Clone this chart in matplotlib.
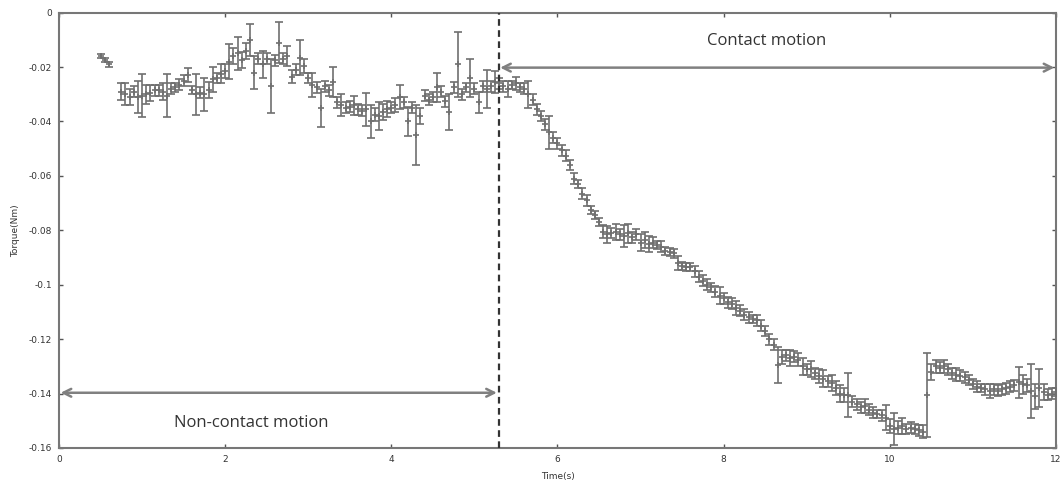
import matplotlib
matplotlib.use("Agg")
import matplotlib.pyplot as plt
import numpy as np

# ---- data ----
time_s = [0.50, 0.55, 0.60,
          0.75, 0.80, 0.85, 0.90, 0.95, 1.00, 1.05, 1.10, 1.15, 1.20, 1.25, 1.30, 1.35, 1.40, 1.45, 1.50,
          1.55, 1.60, 1.65, 1.70, 1.75, 1.80, 1.85, 1.90, 1.95, 2.00, 2.05, 2.10, 2.15, 2.20, 2.25, 2.30,
          2.35, 2.40, 2.45, 2.50, 2.55, 2.60, 2.65, 2.70, 2.75, 2.80, 2.85, 2.90, 2.95, 3.00, 3.05, 3.10,
          3.15, 3.20, 3.25, 3.30, 3.35, 3.40, 3.45, 3.50, 3.55, 3.60, 3.65, 3.70, 3.75, 3.80, 3.85, 3.90,
          3.95, 4.00, 4.05, 4.10, 4.15, 4.20, 4.25, 4.30, 4.35, 4.40, 4.45, 4.50, 4.55, 4.60, 4.65, 4.70,
          4.75, 4.80, 4.85, 4.90, 4.95, 5.00, 5.05, 5.10, 5.15, 5.20, 5.25, 5.30, 5.35, 5.40, 5.45, 5.50,
          5.55, 5.60, 5.65, 5.70, 5.75, 5.80, 5.85, 5.90, 5.95, 6.00, 6.05, 6.10, 6.15, 6.20, 6.25, 6.30,
          6.35, 6.40, 6.45, 6.50, 6.55, 6.60, 6.65, 6.70, 6.75, 6.80, 6.85, 6.90, 6.95, 7.00, 7.05, 7.10,
          7.15, 7.20, 7.25, 7.30, 7.35, 7.40, 7.45, 7.50, 7.55, 7.60, 7.65, 7.70, 7.75, 7.80, 7.85, 7.90,
          7.95, 8.00, 8.05, 8.10, 8.15, 8.20, 8.25, 8.30, 8.35, 8.40, 8.45, 8.50, 8.55, 8.60, 8.65, 8.70,
          8.75, 8.80, 8.85, 8.90, 8.95, 9.00, 9.05, 9.10, 9.15, 9.20, 9.25, 9.30, 9.35, 9.40, 9.45, 9.50,
          9.55, 9.60, 9.65, 9.70, 9.75, 9.80, 9.85, 9.90, 9.95, 10.00, 10.05, 10.10, 10.15, 10.20, 10.25,
          10.30, 10.35, 10.40, 10.45, 10.50, 10.55, 10.60, 10.65, 10.70, 10.75, 10.80, 10.85, 10.90,
          10.95, 11.00, 11.05, 11.10, 11.15, 11.20, 11.25, 11.30, 11.35, 11.40, 11.45, 11.50, 11.55,
          11.60, 11.65, 11.70, 11.75, 11.80, 11.85, 11.90, 11.95, 12.00]

torque_mean = [-0.0160, -0.0174, -0.0190,
               -0.0290, -0.0300, -0.0310, -0.0290, -0.0310, -0.0305, -0.0300, -0.0295, -0.0285, -0.0285,
               -0.0290, -0.0305, -0.0280, -0.0275, -0.0265, -0.0250,
               -0.0230, -0.0285, -0.0300, -0.0295, -0.0300, -0.0285, -0.0245, -0.0240, -0.0225, -0.0215,
               -0.0180, -0.0160, -0.0150, -0.0175, -0.0140, -0.0100,
               -0.0220, -0.0170, -0.0190, -0.0170, -0.0270, -0.0175, -0.0110, -0.0170, -0.0160, -0.0235,
               -0.0210, -0.0165, -0.0195, -0.0240, -0.0265, -0.0275,
               -0.0350, -0.0270, -0.0285, -0.0255, -0.0330, -0.0340, -0.0350, -0.0345, -0.0340, -0.0355,
               -0.0360, -0.0355, -0.0400, -0.0375, -0.0380, -0.0365,
               -0.0355, -0.0350, -0.0340, -0.0310, -0.0330, -0.0400, -0.0350, -0.0450, -0.0380, -0.0305,
               -0.0320, -0.0310, -0.0275, -0.0290, -0.0325, -0.0365,
               -0.0275, -0.0190, -0.0300, -0.0275, -0.0240, -0.0280, -0.0330, -0.0270, -0.0280, -0.0270,
               -0.0255, -0.0260, -0.0270, -0.0280, -0.0265, -0.0260,
               -0.0275, -0.0280, -0.0300, -0.0320, -0.0355, -0.0380, -0.0410, -0.0440, -0.0460, -0.0480,
               -0.0505, -0.0525, -0.0560, -0.0610, -0.0630, -0.0665,
               -0.0690, -0.0725, -0.0745, -0.0770, -0.0805, -0.0815, -0.0810, -0.0805, -0.0815, -0.0820,
               -0.0810, -0.0825, -0.0815, -0.0845, -0.0835, -0.0850,
               -0.0845, -0.0855, -0.0860, -0.0875, -0.0880, -0.0885, -0.0920, -0.0930, -0.0935, -0.0935,
               -0.0950, -0.0970, -0.0985, -0.1000, -0.1010, -0.1025,
               -0.1040, -0.1050, -0.1065, -0.1070, -0.1085, -0.1095, -0.1110, -0.1120, -0.1125, -0.1130,
               -0.1150, -0.1170, -0.1200, -0.1220, -0.1295, -0.1265,
               -0.1260, -0.1270, -0.1265, -0.1275, -0.1300, -0.1310, -0.1310, -0.1325, -0.1335, -0.1345,
               -0.1355, -0.1360, -0.1380, -0.1400, -0.1405, -0.1405,
               -0.1430, -0.1440, -0.1450, -0.1445, -0.1460, -0.1470, -0.1475, -0.1480, -0.1488, -0.1520,
               -0.1530, -0.1525, -0.1520, -0.1530, -0.1525,
               -0.1530, -0.1535, -0.1540, -0.1405, -0.1320, -0.1300, -0.1305, -0.1300, -0.1310, -0.1325,
               -0.1330, -0.1335, -0.1340,
               -0.1350, -0.1365, -0.1375, -0.1380, -0.1385, -0.1390, -0.1385, -0.1390, -0.1385, -0.1380,
               -0.1375, -0.1370, -0.1358,
               -0.1365, -0.1370, -0.1390, -0.1410, -0.1380, -0.1395, -0.1405, -0.1400, -0.1395]

torque_err = [0.0008, 0.0008, 0.0010,
              0.0030, 0.0040, 0.0030, 0.0020, 0.0060, 0.0080, 0.0035, 0.0030, 0.0020, 0.0020,
              0.0030, 0.0078, 0.0020, 0.0015, 0.0020, 0.0020,
              0.0025, 0.0015, 0.0075, 0.0020, 0.0060, 0.0030, 0.0045, 0.0020, 0.0035, 0.0025,
              0.0065, 0.0030, 0.0060, 0.0030, 0.0030, 0.0060,
              0.0060, 0.0020, 0.0050, 0.0020, 0.0100, 0.0020, 0.0075, 0.0020, 0.0037, 0.0025,
              0.0020, 0.0065, 0.0025, 0.0020, 0.0045, 0.0020,
              0.0070, 0.0020, 0.0020, 0.0055, 0.0020, 0.0040, 0.0020, 0.0020, 0.0035, 0.0020,
              0.0020, 0.0060, 0.0060, 0.0025, 0.0050, 0.0030,
              0.0030, 0.0020, 0.0025, 0.0045, 0.0020, 0.0055, 0.0020, 0.0110, 0.0030, 0.0020,
              0.0020, 0.0020, 0.0055, 0.0020, 0.0020, 0.0065,
              0.0020, 0.0120, 0.0020, 0.0015, 0.0070, 0.0020, 0.0040, 0.0020, 0.0070, 0.0020,
              0.0040, 0.0020, 0.0020, 0.0030, 0.0015, 0.0025,
              0.0015, 0.0020, 0.0050, 0.0020, 0.0020, 0.0020, 0.0020, 0.0060, 0.0020, 0.0020,
              0.0020, 0.0020, 0.0020, 0.0020, 0.0015, 0.0020,
              0.0020, 0.0015, 0.0015, 0.0015, 0.0025, 0.0030, 0.0020, 0.0030, 0.0020, 0.0040,
              0.0035, 0.0020, 0.0020, 0.0030, 0.0030, 0.0030,
              0.0020, 0.0015, 0.0020, 0.0015, 0.0015, 0.0015, 0.0025, 0.0015, 0.0015, 0.0015,
              0.0020, 0.0020, 0.0020, 0.0020, 0.0015, 0.0020,
              0.0030, 0.0020, 0.0020, 0.0020, 0.0025, 0.0020, 0.0020, 0.0020, 0.0015, 0.0020,
              0.0020, 0.0020, 0.0020, 0.0020, 0.0065, 0.0025,
              0.0020, 0.0030, 0.0020, 0.0025, 0.0030, 0.0020, 0.0030, 0.0020, 0.0025, 0.0030,
              0.0020, 0.0030, 0.0025, 0.0030, 0.0025, 0.0080,
              0.0020, 0.0020, 0.0020, 0.0025, 0.0020, 0.0020, 0.0015, 0.0020, 0.0045, 0.0025,
              0.0060, 0.0025, 0.0030, 0.0020, 0.0020,
              0.0020, 0.0020, 0.0025, 0.0155, 0.0030, 0.0025, 0.0020, 0.0025, 0.0020, 0.0020,
              0.0025, 0.0020, 0.0020,
              0.0020, 0.0020, 0.0020, 0.0015, 0.0020, 0.0025, 0.0020, 0.0020, 0.0020, 0.0020,
              0.0020, 0.0020, 0.0057,
              0.0035, 0.0025, 0.0098, 0.0045, 0.0070, 0.0030, 0.0020, 0.0020, 0.0015]

x_ticks = [0, 2, 4, 6, 8, 10, 12]
x_tick_labels = ["0", "2", "4", "6", "8", "10", "12"]
y_ticks = [0, -0.02, -0.04, -0.06, -0.08, -0.1, -0.12, -0.14, -0.16]
y_tick_labels = ["0", "-0.02", "-0.04", "-0.06", "-0.08", "-0.1", "-0.12", "-0.14", "-0.16"]

split_time = 5.29
contact_label = "Contact motion"
noncontact_label = "Non-contact motion"

# ---- figure ----
fig = plt.figure(figsize=(10.63, 4.91), dpi=100)
ax = fig.add_axes([0.0555, 0.0876, 0.9379, 0.8866])

gray = "#6f6f6f"
ax.errorbar(time_s, torque_mean, yerr=torque_err, fmt='+', color=gray, ms=4, mew=1.2,
            ecolor=gray, elinewidth=1.2, capsize=2.6, capthick=1.2, zorder=3)

ax.set_xlim(0, 12)
ax.set_ylim(-0.16, 0)
ax.set_xticks(x_ticks)
ax.set_xticklabels(x_tick_labels)
ax.set_yticks(y_ticks)
ax.set_yticklabels(y_tick_labels)
ax.tick_params(direction='in', top=True, right=True, length=3, width=1,
               color="#555555", labelsize=6.5, labelcolor="#333333", pad=5)
for s in ax.spines.values():
    s.set_color("#777777")
    s.set_linewidth(1.5)

ax.set_xlabel("Time(s)", fontsize=6.5, color="#333333", labelpad=6)
ax.set_ylabel("Torque(Nm)", fontsize=6.5, color="#333333", labelpad=6)

# split line
ax.axvline(split_time, color="#333333", lw=1.6, ls=(0, (3, 2)), zorder=4)

# arrows
arrow_props = dict(arrowstyle='<->', color="#808080", lw=1.8, mutation_scale=14,
                   shrinkA=0, shrinkB=0)
ax.annotate("", xy=(split_time + 0.02, -0.0202), xytext=(11.98, -0.0202),
            arrowprops=arrow_props, zorder=5)
ax.annotate("", xy=(0.02, -0.1397), xytext=(split_time - 0.02, -0.1397),
            arrowprops=arrow_props, zorder=5)

ax.text(8.52, -0.0103, contact_label, fontsize=12, family=["Open Sans", "DejaVu Sans"],
        color="#333333", ha='center', va='center')
ax.text(2.31, -0.1507, noncontact_label, fontsize=12, family=["Open Sans", "DejaVu Sans"],
        color="#333333", ha='center', va='center')

fig.savefig("out.png", dpi=100)
